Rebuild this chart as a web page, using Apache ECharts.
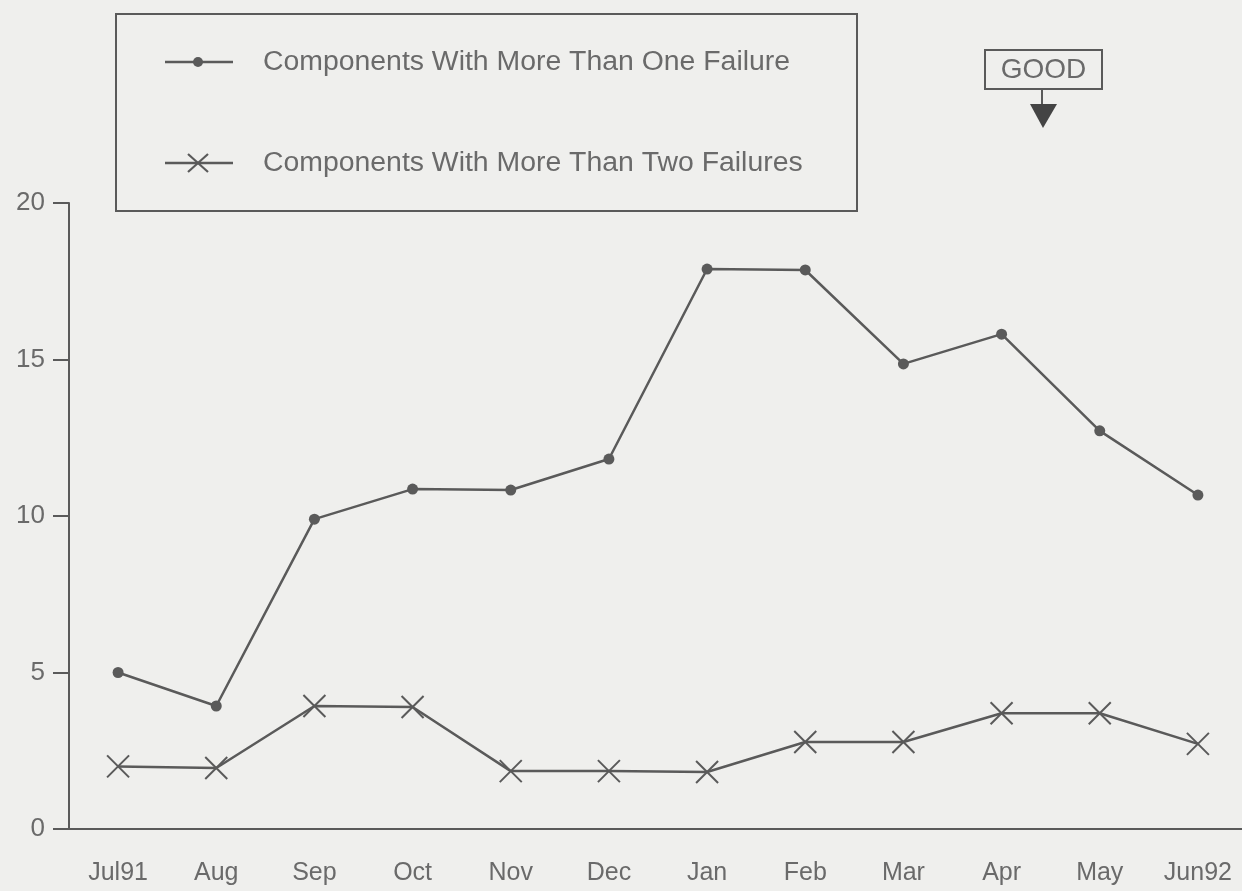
<!DOCTYPE html>
<html>
<head>
<meta charset="utf-8">
<title>Components With Repeat Failures</title>
<script src="https://cdn.jsdelivr.net/npm/echarts@6/dist/echarts.min.js"></script>
<style>
  html, body { margin: 0; padding: 0; background: #efefed; overflow: hidden; }
  #chart { width: 1250px; height: 891px; }
</style>
</head>
<body>
<div id="chart"></div>
<script>
// Monthly counts, July 1991 – June 1992
const months = ['Jul91', 'Aug', 'Sep', 'Oct', 'Nov', 'Dec', 'Jan', 'Feb', 'Mar', 'Apr', 'May', 'Jun92'];
const moreThanOne = [5.0, 3.93, 9.9, 10.86, 10.83, 11.82, 17.89, 17.86, 14.86, 15.81, 12.72, 10.67];
const moreThanTwo = [2.0, 1.95, 3.93, 3.9, 1.85, 1.85, 1.82, 2.78, 2.78, 3.7, 3.7, 2.72];
const seriesNames = ['Components With More Than One Failure', 'Components With More Than Two Failures'];
const yTicks = { min: 0, max: 20, interval: 5 };

const bg = '#efefed';
const ink = '#5a5a5a';
const textInk = '#6a6a6a';
const font = '"Liberation Sans", Arial, Helvetica, sans-serif';
const crossPath = 'path://M0,0L10,10M10,0L0,10';

const chart = echarts.init(document.getElementById('chart'), null, { renderer: 'canvas' });

// Boxed key in the upper left: a line sample with its marker, then the name
function keyEntry(y, markers, label) {
  return [
    { type: 'line', shape: { x1: 49, y1: y, x2: 117, y2: y }, style: { stroke: ink, lineWidth: 2.5 } },
    ...markers,
    {
      type: 'text', x: 147, y: y,
      style: { text: label, fill: textInk, fontSize: 28.4, fontFamily: font, verticalAlign: 'middle' }
    }
  ];
}

const crossStyle = { stroke: ink, lineWidth: 2.2 };

const keyBox = {
  type: 'group',
  x: 116,
  y: 14,
  z: 10,
  children: [
    {
      type: 'rect',
      shape: { x: 0, y: 0, width: 741, height: 197 },
      style: { fill: bg, stroke: ink, lineWidth: 2 }
    },
    ...keyEntry(48, [
      { type: 'circle', shape: { cx: 82, cy: 48, r: 5 }, style: { fill: ink } }
    ], seriesNames[0]),
    ...keyEntry(149, [
      { type: 'line', shape: { x1: 72, y1: 140, x2: 92, y2: 158 }, style: crossStyle },
      { type: 'line', shape: { x1: 92, y1: 140, x2: 72, y2: 158 }, style: crossStyle }
    ], seriesNames[1])
  ]
};

const goodFlag = {
  type: 'group',
  x: 985,
  y: 50,
  children: [
    {
      type: 'rect',
      shape: { x: 0, y: 0, width: 117, height: 39 },
      style: { fill: 'none', stroke: ink, lineWidth: 2 }
    },
    {
      type: 'text', x: 58.5, y: 20,
      style: { text: 'GOOD', fill: textInk, fontSize: 28, fontFamily: font, align: 'center', verticalAlign: 'middle' }
    },
    { type: 'line', shape: { x1: 57, y1: 39, x2: 57, y2: 56 }, style: { stroke: ink, lineWidth: 2 } },
    { type: 'polygon', shape: { points: [[45, 54], [72, 54], [58, 78]] }, style: { fill: '#444' } }
  ]
};

chart.setOption({
  backgroundColor: bg,
  animation: false,
  textStyle: { fontFamily: font },
  grid: { left: 69, top: 203, width: 1178, bottom: 62, containLabel: false },
  xAxis: {
    type: 'category',
    data: months,
    boundaryGap: true,
    axisLine: { show: true, lineStyle: { color: ink, width: 2 } },
    axisTick: { show: false },
    axisLabel: { color: textInk, fontSize: 25, margin: 32, fontFamily: font },
    splitLine: { show: false }
  },
  yAxis: {
    type: 'value',
    min: yTicks.min,
    max: yTicks.max,
    interval: yTicks.interval,
    axisLine: { show: true, lineStyle: { color: ink, width: 2 } },
    axisTick: { show: true, inside: false, length: 16, lineStyle: { color: ink, width: 2 } },
    axisLabel: { color: textInk, fontSize: 26, margin: 24, fontFamily: font },
    splitLine: { show: false }
  },
  series: [
    {
      name: seriesNames[0],
      type: 'line',
      data: moreThanOne,
      symbol: 'circle',
      symbolSize: 11,
      lineStyle: { color: ink, width: 2.5 },
      itemStyle: { color: ink, borderColor: ink, borderWidth: 0 }
    },
    {
      name: seriesNames[1],
      type: 'line',
      data: moreThanTwo,
      symbol: crossPath,
      symbolSize: 22,
      lineStyle: { color: ink, width: 2.5 },
      itemStyle: { color: ink, borderColor: ink, borderWidth: 2 }
    }
  ],
  graphic: [keyBox, goodFlag]
});
</script>
</body>
</html>
